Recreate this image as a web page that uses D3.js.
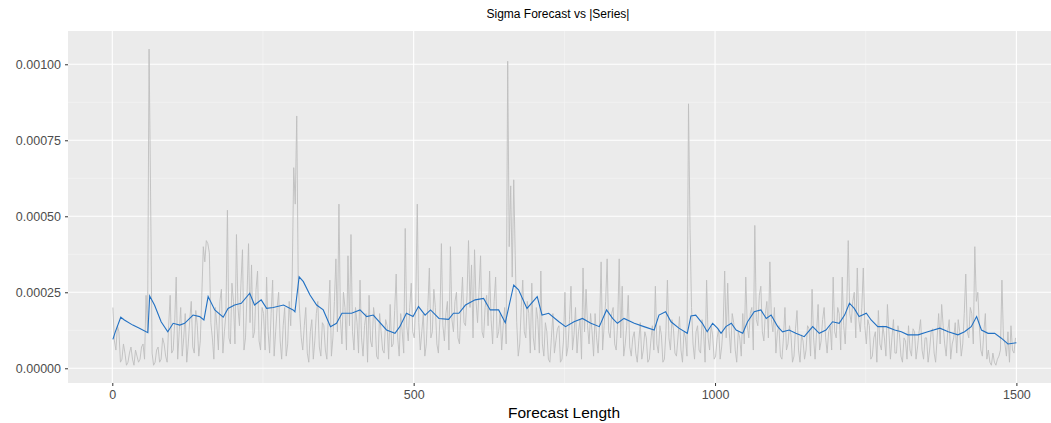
<!DOCTYPE html>
<html>
<head>
<meta charset="utf-8">
<script src="https://cdn.jsdelivr.net/npm/d3@7"></script>
<style>
  html, body { margin: 0; padding: 0; background: #ffffff; }
  svg { display: block; }
</style>
</head>
<body>
<svg id="chart" width="1051" height="423"></svg>
<script>
// ---- data (values in units of 1e-5) ----
const valueUnit = 1e-5;
const titleText = "Sigma Forecast vs |Series|";
const xTitle = "Forecast Length";
const xTicks = [0, 500, 1000, 1500];
const yTicks = [0, 0.00025, 0.0005, 0.00075, 0.001];
const yTickLabels = ["0.00000", "0.00025", "0.00050", "0.00075", "0.00100"];

// |Series|, read every 2.5 steps starting at step 1
const seriesStart = 1, seriesStep = 2.5;
const seriesAbs = [
  20,9,6,14,12,2,3,8,5,1,2,5,7,3,1,6,4,2,3,7,
  8,3,24,12,105,58,5,1,2,6,7,2,3,10,8,4,2,14,24,5,
  6,15,30,3,12,20,4,10,18,2,8,16,22,7,5,19,14,4,9,24,
  40,35,42,41,38,15,10,3,20,14,6,22,26,5,12,18,52,10,8,28,
  22,8,44,20,14,28,39,6,10,24,41,15,34,10,12,26,32,9,6,20,
  18,6,30,12,5,18,29,4,12,20,25,9,3,14,20,4,8,22,14,30,
  66,54,83,28,18,10,6,14,20,5,2,12,16,3,9,18,22,7,4,15,
  14,6,3,18,29,4,10,22,36,12,54,16,8,25,20,6,37,14,44,12,
  6,20,15,5,29,10,4,14,18,2,24,9,7,20,16,4,3,18,12,6,
  5,16,14,3,21,7,8,19,31,10,4,18,12,5,46,14,9,20,28,12,
  10,22,54,15,6,12,18,4,8,20,33,10,12,26,20,8,5,16,41,14,
  9,18,22,6,40,16,12,22,25,10,8,20,30,15,14,24,42,20,34,10,
  39,22,15,26,37,12,10,20,24,14,32,16,8,22,30,10,12,18,6,14,
  20,8,101,40,60,30,62,37,15,4,8,20,29,12,10,22,18,5,28,10,
  6,20,16,5,32,8,4,15,12,3,2,10,18,5,9,13,14,2,3,9,
  25,4,7,16,27,6,11,20,5,12,16,3,33,12,26,14,8,18,12,4,
  18,10,5,15,35,6,14,22,36,12,10,18,20,8,6,15,36,10,27,4,
  8,14,24,7,4,10,12,5,2,9,15,3,6,12,10,2,3,9,14,6,
  27,8,5,14,11,2,3,12,29,10,6,16,13,5,4,10,17,6,2,12,
  10,4,87,46,20,8,3,12,14,6,5,16,12,2,29,10,6,14,11,3,
  4,10,13,3,7,14,32,10,28,12,5,18,15,6,2,12,10,4,18,8,
  30,14,10,18,20,6,47,16,14,24,27,12,9,18,22,10,35,16,12,20,
  5,12,14,4,3,10,20,6,8,14,11,2,4,13,19,6,2,11,9,3,
  6,14,13,4,26,10,3,12,21,6,9,16,20,10,5,12,14,6,30,12,
  10,20,18,6,30,14,8,20,42,18,15,22,25,10,33,16,12,20,33,14,
  8,16,14,3,4,10,12,2,19,8,6,14,10,4,21,12,3,10,16,5,
  5,14,11,4,2,10,9,3,14,6,4,13,12,3,7,12,16,6,3,10,
  10,2,6,12,13,5,2,10,18,8,21,14,8,4,12,16,3,8,10,15,
  5,16,12,4,8,18,31,12,10,20,18,8,40,22,25,14,6,4,12,18,
  3,6,2,1,5,2,1,3,4,6,29,10,8,4,12,2,14,6,5,10
];

// Sigma forecast
const sigmaIdx = [1,5,14,20,34,45,59,62,70,81,92,101,112,120,134,145,152,159,170,184,192,203,214,228,236,247,256,267,284,300,303,310,317,328,339,350,362,372,381,397,411,422,433,455,469,477,488,499,508,519,528,542,558,566,575,586,602,616,627,641,652,666,674,688,705,713,724,741,752,766,780,794,808,820,830,838,849,866,882,899,907,918,927,940,954,960,968,979,987,996,1004,1010,1018,1027,1035,1046,1054,1065,1076,1085,1093,1104,1112,1123,1134,1148,1162,1173,1184,1195,1206,1215,1223,1231,1239,1251,1259,1270,1284,1298,1309,1320,1337,1353,1373,1387,1403,1414,1425,1434,1442,1453,1464,1475,1486,1500];
const sigmaVal = [9.5,12,16.8,15.9,14.2,13.2,11.7,23.8,20.8,15.3,12,14.8,14.2,14.8,17.5,17,15.9,23.6,19.2,16.8,19.7,20.8,21.4,24.7,20.8,22.5,19.7,20,20.8,19.2,18.6,30.1,28.5,24.1,20.8,19.2,13.7,14.8,18.1,18.1,19.2,17,17.5,12.6,11.5,13.7,18.1,17,20.3,17.5,19.2,16.4,16.1,18.1,18.1,20.8,22.5,23,19.2,19.2,15,27.4,25.8,19.7,23.6,17.5,18.1,15.3,13.7,15.3,16.4,14.8,13.7,19.2,16.4,14.8,16.4,14.8,13.7,12.6,17.5,18.6,15.3,13.2,11.5,17.2,17.5,14.8,12,14.8,13.2,11.5,13.7,14.8,12.6,11.5,15.3,18.6,19.2,16.4,17.5,13.7,12,12.6,11.5,10.4,13.7,11.5,12.6,15.3,14.8,17.5,21.4,19.7,17,18.1,15.9,13.7,13.7,12.6,12,11,11,12,13.2,12,11,12,13.7,17,12.6,11.5,11.5,9.9,8,8.4];

// ---- drawing ----
const svg = d3.select("#chart");
const panel = { left: 68, right: 1061, top: 31, bottom: 383 };

const x = d3.scaleLinear().domain([-73.5, 1574]).range([panel.left, panel.right]);
const y = d3.scaleLinear().domain([-0.0000484, 0.0011095]).range([panel.bottom, panel.top]);

const seriesData = seriesAbs.map((v, i) => ({ t: seriesStart + i * seriesStep, v: v * valueUnit }));
const sigmaData = sigmaIdx.map((t, i) => ({ t, v: sigmaVal[i] * valueUnit }));

svg.append("rect")
  .attr("x", panel.left).attr("y", panel.top)
  .attr("width", panel.right - panel.left).attr("height", panel.bottom - panel.top)
  .attr("fill", "#ebebeb");

const clip = svg.append("defs").append("clipPath").attr("id", "pclip");
clip.append("rect")
  .attr("x", panel.left).attr("y", panel.top)
  .attr("width", panel.right - panel.left).attr("height", panel.bottom - panel.top);

const grid = svg.append("g").attr("clip-path", "url(#pclip)");
const xMinor = [250, 750, 1250];
const yMinor = [0.000125, 0.000375, 0.000625, 0.000875];
grid.selectAll("line.xmin").data(xMinor).join("line")
  .attr("x1", d => x(d)).attr("x2", d => x(d))
  .attr("y1", panel.top).attr("y2", panel.bottom)
  .attr("stroke", "#f7f7f7").attr("stroke-width", 0.6);
grid.selectAll("line.ymin").data(yMinor).join("line")
  .attr("x1", panel.left).attr("x2", panel.right)
  .attr("y1", d => y(d)).attr("y2", d => y(d))
  .attr("stroke", "#f7f7f7").attr("stroke-width", 0.6);
grid.selectAll("line.xmaj").data(xTicks).join("line")
  .attr("x1", d => x(d)).attr("x2", d => x(d))
  .attr("y1", panel.top).attr("y2", panel.bottom)
  .attr("stroke", "#ffffff").attr("stroke-width", 1.1);
grid.selectAll("line.ymaj").data(yTicks).join("line")
  .attr("x1", panel.left).attr("x2", panel.right)
  .attr("y1", d => y(d)).attr("y2", d => y(d))
  .attr("stroke", "#ffffff").attr("stroke-width", 1.1);

const line = d3.line().x(d => x(d.t)).y(d => y(d.v));
const plot = svg.append("g").attr("clip-path", "url(#pclip)");
plot.append("path").datum(seriesData)
  .attr("d", line).attr("fill", "none")
  .attr("stroke", "#bebebe").attr("stroke-width", 0.9);
plot.append("path").datum(sigmaData)
  .attr("d", line).attr("fill", "none")
  .attr("stroke", "#2271c3").attr("stroke-width", 1.1);

// axes
const xAxis = d3.axisBottom(x).tickValues(xTicks).tickSize(3).tickPadding(4).tickFormat(d3.format("d"));
const gx = svg.append("g").attr("transform", `translate(0,${panel.bottom})`).call(xAxis);
gx.select(".domain").remove();
gx.selectAll(".tick line").attr("stroke", "#333333");
gx.selectAll(".tick text").attr("fill", "#4d4d4d")
  .style("font-family", "'Liberation Sans', Arial, sans-serif").style("font-size", "12.5px");

const yAxis = d3.axisLeft(y).tickValues(yTicks).tickSize(3).tickPadding(4)
  .tickFormat((d, i) => yTickLabels[i]);
const gy = svg.append("g").attr("transform", `translate(${panel.left},0)`).call(yAxis);
gy.select(".domain").remove();
gy.selectAll(".tick line").attr("stroke", "#333333");
gy.selectAll(".tick text").attr("fill", "#4d4d4d")
  .style("font-family", "'Liberation Sans', Arial, sans-serif").style("font-size", "12.5px");

svg.append("text")
  .attr("x", 558).attr("y", 18).attr("text-anchor", "middle")
  .style("font-family", "'Liberation Sans', Arial, sans-serif").style("font-size", "12px")
  .attr("fill", "#000000").text(titleText);

svg.append("text")
  .attr("x", 564).attr("y", 418).attr("text-anchor", "middle")
  .style("font-family", "'Liberation Sans', Arial, sans-serif").style("font-size", "15.5px")
  .attr("fill", "#000000").text(xTitle);
</script>
</body>
</html>
